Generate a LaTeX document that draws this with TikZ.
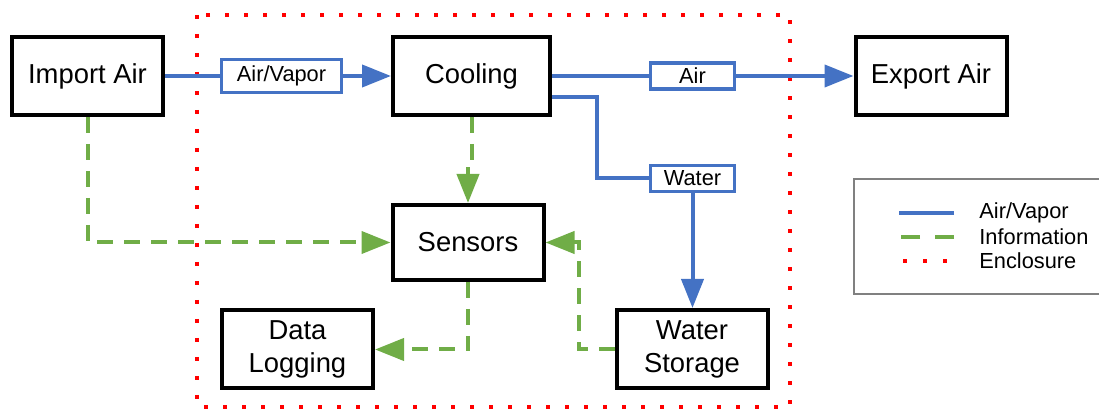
\documentclass[tikz,border=0pt]{standalone}
\usepackage{fontspec}
\setmainfont{Liberation Sans}
\usetikzlibrary{arrows.meta}
\definecolor{flowblue}{HTML}{4472C4}
\definecolor{infogreen}{HTML}{70AD47}
\definecolor{enclred}{HTML}{FF0000}

\begin{document}
\begin{tikzpicture}[x=0.5pt, y=-0.5pt,
  >={Triangle[length=14.5pt, width=11pt]},
  block/.style={draw, line width=2pt, fill=white, minimum width=75.5pt, minimum height=39pt,
    align=center, inner sep=2pt, font=\fontsize{13.7}{16.5}\selectfont},
  flowtag/.style={draw=flowblue, line width=1.6pt, fill=white, inner sep=0pt,
    font=\fontsize{10.9}{13}\selectfont},
  legtext/.style={inner sep=1.5pt, anchor=west, font=\fontsize{10.9}{13}\selectfont},
  air/.style={flowblue, line width=2pt},
  info/.style={infogreen, line width=2pt, dash pattern=on 8pt off 5.5pt},
  encl/.style={enclred, line width=2pt, dash pattern=on 2pt off 7.5pt}]

  \useasboundingbox (0,0) rectangle (1099,410);

  % Enclosure
  \draw[encl] (197,15) rectangle (790,407);

  % Blocks
  \node[block] (imp) at (87.5,76) {Import Air};
  \node[block, minimum width=78.5pt] (cool) at (471.5,76) {Cooling};
  \node[block] (exp) at (931,76) {Export Air};
  \node[block, minimum height=37.5pt] (sens) at (468,242.5) {Sensors};
  \node[block] (dlog) at (297.5,349.5) {Data\\Logging};
  \node[block] (wst) at (692,349) {Water\\Storage};

  % Flow tags
  \node[flowtag, minimum width=60pt, minimum height=16.5pt] (lav) at (281.5,76) {Air/Vapor};
  \node[flowtag, minimum width=42pt, minimum height=13pt] (lair) at (692.5,76) {Air};
  \node[flowtag, minimum width=42pt, minimum height=13pt] (lwat) at (692.5,178.5) {Water};

  % Air/vapor flows
  \draw[air] (imp) -- (lav);
  \draw[air, ->] (lav) -- (cool);
  \draw[air] (cool.east) -- (lair);
  \draw[air, ->] (lair) -- (exp);
  \draw[air] ([yshift=-10.5pt]cool.east) -| ([xshift=-26pt]lwat.west) -- (lwat);
  \draw[air, ->] (lwat) -- (lwat |- wst.north);

  % Information flows
  \draw[info, ->] (imp) |- (sens);
  \draw[info, ->] (cool.south) -- ++(0,-20.5pt) -| (sens.north);
  \draw[info, ->] (sens) |- (dlog);
  \draw[info, ->] (wst.west) -- ++(-18pt,0) |- (sens.east);

  % Legend
  \draw[gray, line width=0.6pt] (854,179) rectangle (1102,294);
  \node[legtext] (kair) at (976,213) {Air/Vapor};
  \node[legtext] (kinfo) at (976,237) {Information};
  \node[legtext] (kencl) at (976,261) {Enclosure};
  \draw[air] ([xshift=-11pt]kair.west) -- ++(-27.5pt,0);
  \draw[info, dash pattern=on 9.5pt off 7.5pt] ([xshift=-11pt]kinfo.west) -- ++(-27.5pt,0);
  \draw[encl, dash pattern=on 2pt off 8pt] ([xshift=-36.5pt]kencl.west) -- ++(22pt,0);
\end{tikzpicture}
\end{document}
